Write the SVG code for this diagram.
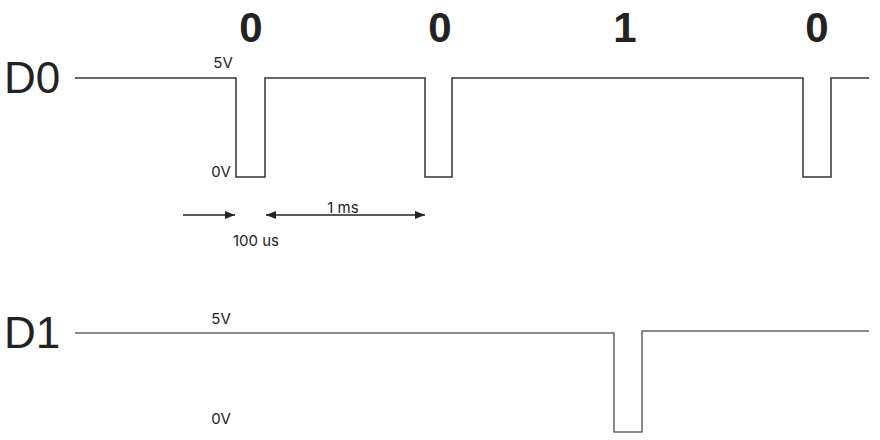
<svg xmlns="http://www.w3.org/2000/svg" width="880" height="440" viewBox="0 0 880 440">
<style>
.sig{fill:none;stroke:#333;stroke-width:1.5}
.t{font-family:"Inter","Liberation Sans",sans-serif;fill:#222}
.bit{font-family:"Liberation Sans",sans-serif;font-weight:bold;font-size:42px;fill:#222;text-anchor:middle}
.lab{font-family:"Liberation Sans",sans-serif;font-size:44px;fill:#222}
.v{font-size:15px;text-anchor:middle}
</style>
<defs><marker id="ah" viewBox="0 0 10 10" refX="10" refY="5" markerWidth="10" markerHeight="10" markerUnits="userSpaceOnUse" orient="auto-start-reverse"><path d="M0,1 L10,5 L0,9 z" fill="#222"/></marker></defs>
<rect width="880" height="440" fill="#fff"/>
<g id="bits">
<text class="bit" x="251" y="42">0</text>
<text class="bit" x="440" y="42">0</text>
<text class="bit" x="625" y="42">1</text>
<text class="bit" x="817" y="42">0</text>
</g>
<g id="D0">
<text class="lab" x="4" y="93">D0</text>
<text class="t v" x="223" y="68">5V</text>
<text class="t v" x="221" y="177">0V</text>
<path class="sig" d="M75,78 H236 V177 H265 V78 H425 V177 H452 V78 H803 V177 H831 V78 H869"/>
</g>
<g id="D1">
<text class="lab" x="4" y="348">D1</text>
<text class="t v" x="221" y="324">5V</text>
<text class="t v" x="221" y="424">0V</text>
<path class="sig" d="M75,333 H614 V432 H642 V331 H869" style="stroke:#666"/>
</g>
<g id="connectors">
<line x1="183" y1="215" x2="235" y2="215" stroke="#222" stroke-width="1.3" marker-end="url(#ah)"/>
<line x1="266" y1="215" x2="425" y2="215" stroke="#222" stroke-width="1.3" marker-start="url(#ah)" marker-end="url(#ah)"/>
<text class="t v" x="343" y="213">1 ms</text>
<text class="t v" x="256" y="246">100 us</text>
</g>
</svg>
